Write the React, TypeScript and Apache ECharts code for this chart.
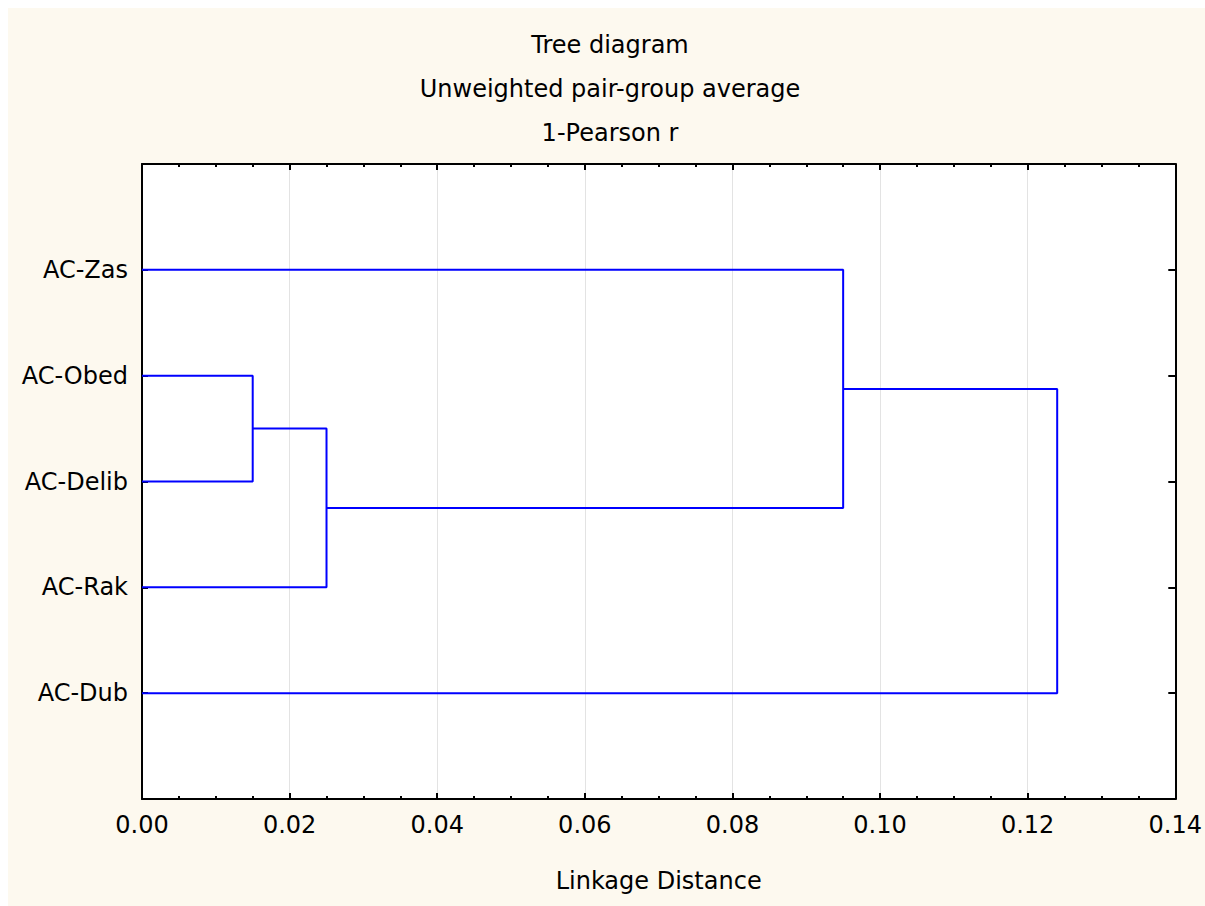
import React, { useEffect, useRef } from "react";
import * as echarts from "echarts";

// ---- data ----
const leaves: string[] = ["AC-Zas", "AC-Obed", "AC-Delib", "AC-Rak", "AC-Dub"];
// merge k creates node index leaves.length + k
const mergeLeft: number[] = [1, 5, 0, 7];
const mergeRight: number[] = [2, 3, 6, 4];
const mergeDistance: number[] = [0.015, 0.025, 0.095, 0.124];
const titleLines: string[] = ["Tree diagram", "Unweighted pair-group average", "1-Pearson r"];
const xAxisName = "Linkage Distance";
const xMin = 0;
const xMax = 0.14;
const xStep = 0.02;

const FONT = "DejaVu Sans";
const BLUE = "#0000ff";
const CREAM = "#fdf9ef";

function buildSeries() {
  const nodeY: number[] = leaves.map((_, i) => i + 1);
  const nodeH: number[] = leaves.map(() => 0);
  const series: any[] = [];
  for (let k = 0; k < mergeDistance.length; k++) {
    const a = mergeLeft[k];
    const b = mergeRight[k];
    const h = mergeDistance[k];
    series.push({
      type: "line",
      name: "merge" + k,
      showSymbol: false,
      symbol: "none",
      silent: true,
      lineStyle: { color: BLUE, width: 2 },
      data: [
        [nodeH[a], nodeY[a]],
        [h, nodeY[a]],
        [h, nodeY[b]],
        [nodeH[b], nodeY[b]],
      ],
      z: 3,
    });
    nodeY.push((nodeY[a] + nodeY[b]) / 2);
    nodeH.push(h);
  }
  return series;
}

export default function App() {
  const ref = useRef<HTMLDivElement>(null);
  useEffect(() => {
    document.body.style.margin = "0";
    document.body.style.overflow = "hidden";
    document.body.style.background = CREAM;
    document.documentElement.style.background = CREAM;
    const chart = echarts.init(ref.current!, null, { renderer: "svg" });
    const axisLine = { show: true, onZero: false, lineStyle: { color: "#000", width: 2 } };
    const tickStyle = { color: "#000", width: 2 };
    const labelStyle = { fontFamily: FONT, fontSize: 24, color: "#000" };
    const option: any = {
      animation: false,
      backgroundColor: "#ffffff",
      grid: {
        left: 142,
        top: 164,
        width: 1035,
        height: 635,
        show: true,
        backgroundColor: "#ffffff",
        borderWidth: 0,
        containLabel: false,
      },
      graphic: [
        {
          type: "rect",
          z: -10,
          silent: true,
          shape: { x: 8, y: 8, width: 1400, height: 1100 },
          style: { fill: CREAM },
        },
        ...titleLines.map((t, i) => ({
          type: "text",
          x: 610,
          y: 45 + i * 44,
          style: {
            text: t,
            fill: "#000",
            fontFamily: FONT,
            fontSize: 24,
            textAlign: "center",
            textVerticalAlign: "middle",
          },
        })),
      ],
      xAxis: [
        {
          type: "value",
          position: "bottom",
          min: xMin,
          max: xMax,
          interval: xStep,
          axisLine,
          axisTick: { show: true, inside: true, length: 6, lineStyle: tickStyle },
          minorTick: { show: true, splitNumber: 4, length: 3, lineStyle: tickStyle },
          splitLine: { show: true, lineStyle: { color: "#e3e3e3", width: 1 } },
          axisLabel: { ...labelStyle, margin: 14, formatter: (v: number) => v.toFixed(2) },
          name: xAxisName,
          nameLocation: "middle",
          nameGap: 70,
          nameTextStyle: labelStyle,
        },
        {
          type: "value",
          position: "top",
          min: xMin,
          max: xMax,
          interval: xStep,
          axisLine,
          axisTick: { show: true, inside: true, length: 6, lineStyle: tickStyle },
          minorTick: { show: true, splitNumber: 4, length: 3, lineStyle: tickStyle },
          splitLine: { show: false },
          axisLabel: { show: false },
        },
      ],
      yAxis: [
        {
          type: "value",
          position: "left",
          inverse: true,
          min: 0,
          max: leaves.length + 1,
          interval: 1,
          axisLine,
          axisTick: { show: true, inside: true, length: 6, lineStyle: tickStyle },
          splitLine: { show: false },
          axisLabel: {
            ...labelStyle,
            margin: 14,
            formatter: (v: number) => leaves[Math.round(v) - 1] ?? "",
          },
        },
        {
          type: "value",
          position: "right",
          inverse: true,
          min: 0,
          max: leaves.length + 1,
          interval: 1,
          axisLine,
          axisTick: { show: true, inside: true, length: 7, lineStyle: tickStyle },
          splitLine: { show: false },
          axisLabel: { show: false },
        },
      ],
      series: buildSeries(),
    };
    chart.setOption(option);
    return () => chart.dispose();
  }, []);
  return <div ref={ref} style={{ width: 1205, height: 906 }} />;
}
